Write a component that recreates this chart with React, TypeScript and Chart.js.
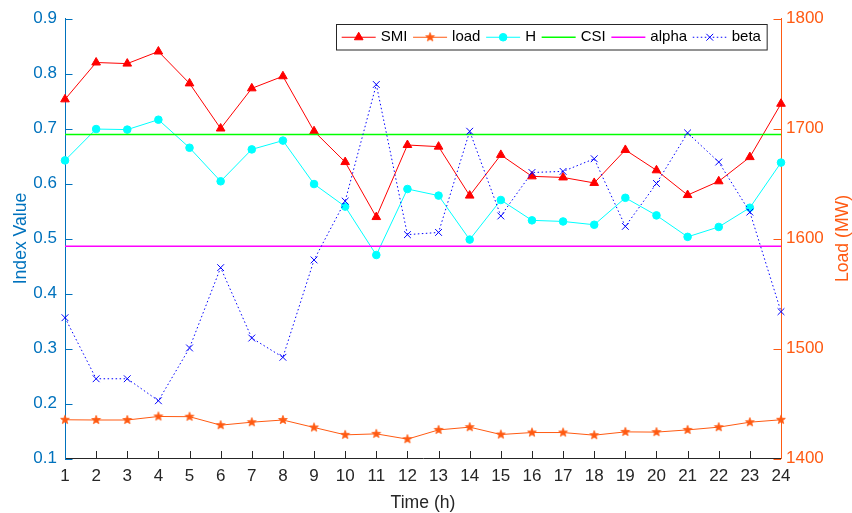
import React, { useEffect, useRef } from 'react';
import { Chart, registerables } from 'chart.js';
import { drawPoint } from 'chart.js/helpers';

Chart.register(...registerables);

// ---------------- data ----------------
const hours = [1, 2, 3, 4, 5, 6, 7, 8, 9, 10, 11, 12, 13, 14, 15, 16, 17, 18, 19, 20, 21, 22, 23, 24];
const smiValues = [0.753, 0.820, 0.818, 0.840, 0.782, 0.700, 0.773, 0.795, 0.695, 0.639, 0.539, 0.670, 0.667, 0.578, 0.652, 0.613, 0.611, 0.601, 0.661, 0.624, 0.579, 0.604, 0.648, 0.745];
const loadValues = [1435.2, 1435.0, 1435.0, 1438.2, 1438.0, 1430.3, 1433.0, 1435.0, 1428.2, 1421.5, 1422.4, 1417.6, 1426.0, 1428.5, 1421.8, 1423.6, 1423.6, 1421.2, 1424.2, 1424.0, 1426.0, 1428.5, 1433.0, 1435.2];
const hValues = [0.642, 0.699, 0.698, 0.716, 0.665, 0.604, 0.662, 0.678, 0.599, 0.558, 0.470, 0.590, 0.578, 0.498, 0.570, 0.533, 0.531, 0.525, 0.574, 0.542, 0.503, 0.521, 0.556, 0.638];
const betaValues = [0.356, 0.245, 0.245, 0.205, 0.301, 0.447, 0.319, 0.284, 0.461, 0.568, 0.780, 0.507, 0.511, 0.695, 0.541, 0.620, 0.622, 0.645, 0.522, 0.600, 0.692, 0.639, 0.548, 0.367];
const csiValue = 0.689;
const alphaValue = 0.486;

const leftTicks = [0.1, 0.2, 0.3, 0.4, 0.5, 0.6, 0.7, 0.8, 0.9];
const rightTicks = [1400, 1500, 1600, 1700, 1800];
const seriesLabels = ['SMI', 'load', 'H', 'CSI', 'alpha', 'beta'];
const rightTitle = 'Load (MW)';

// ---------------- styles ----------------
const FONT = '"Liberation Sans", Arial, Helvetica, sans-serif';
const AXIS_DARK = '#262626';
const LEFT_COLOR = '#0072BD';
const LOAD_COLOR = '#FF5A12';

function makeStar(color: string, outer: number): HTMLCanvasElement {
  const size = Math.ceil(outer * 2 + 2);
  const c = document.createElement('canvas');
  c.width = size;
  c.height = size;
  const ctx = c.getContext('2d')!;
  const cx = size / 2;
  const cy = size / 2;
  const inner = outer * 0.42;
  ctx.beginPath();
  for (let k = 0; k < 10; k++) {
    const r = k % 2 === 0 ? outer : inner;
    const a = -Math.PI / 2 + (k * Math.PI) / 5;
    ctx.lineTo(cx + r * Math.cos(a), cy + r * Math.sin(a));
  }
  ctx.closePath();
  ctx.fillStyle = color;
  ctx.fill();
  ctx.strokeStyle = color;
  ctx.lineWidth = 0.8;
  ctx.stroke();
  return c;
}

const pts = (vals: number[]) => hours.map((h, i) => ({ x: h, y: vals[i] }));
const flat = (v: number) => [
  { x: hours[0], y: v },
  { x: hours[hours.length - 1], y: v },
];

const innerTicksPlugin = {
  id: 'innerTicks',
  afterDatasetsDraw(chart: any) {
    const { ctx, chartArea, scales } = chart;
    const L = 7.5;
    ctx.save();
    ctx.lineWidth = 1;
    ctx.strokeStyle = AXIS_DARK;
    hours.forEach((h, i) => {
      if (i === 0 || i === hours.length - 1) return;
      const px = Math.round(scales.x.getPixelForValue(h)) + 0.5;
      ctx.beginPath();
      ctx.moveTo(px, chartArea.bottom);
      ctx.lineTo(px, chartArea.bottom - L);
      ctx.stroke();
    });
    ctx.strokeStyle = LEFT_COLOR;
    leftTicks.forEach((v) => {
      const py = Math.round(scales.y.getPixelForValue(v)) + 0.5;
      ctx.beginPath();
      ctx.moveTo(chartArea.left, py);
      ctx.lineTo(chartArea.left + L, py);
      ctx.stroke();
    });
    ctx.strokeStyle = LOAD_COLOR;
    rightTicks.forEach((v) => {
      const py = Math.round(scales.y1.getPixelForValue(v)) + 0.5;
      ctx.beginPath();
      ctx.moveTo(chartArea.right, py);
      ctx.lineTo(chartArea.right - L, py);
      ctx.stroke();
    });
    // right axis title, reading bottom-to-top like the left one
    const s = scales.y1;
    ctx.save();
    ctx.translate(s.right - 8.8, (s.top + s.bottom) / 2);
    ctx.rotate(-Math.PI / 2);
    ctx.fillStyle = LOAD_COLOR;
    ctx.font = `17.6px ${FONT}`;
    ctx.textAlign = 'center';
    ctx.textBaseline = 'middle';
    ctx.fillText(rightTitle, 0, 0);
    ctx.restore();
    ctx.restore();
  },
};

const legendPlugin = {
  id: 'boxLegend',
  afterDraw(chart: any) {
    const ctx = chart.ctx as CanvasRenderingContext2D;
    const datasets = chart.data.datasets;
    const boxLeft = 336;
    const boxTop = 24;
    const boxH = 25.5;
    const lineLen = 34;
    const pad = 5.7;
    const textGap = 5;
    ctx.save();
    ctx.font = `15px ${FONT}`;
    let w = pad;
    datasets.forEach((ds: any) => {
      w += lineLen + textGap + ctx.measureText(ds.label).width + pad;
    });
    ctx.fillStyle = '#ffffff';
    ctx.fillRect(boxLeft, boxTop, w, boxH);
    ctx.strokeStyle = AXIS_DARK;
    ctx.lineWidth = 1;
    ctx.strokeRect(boxLeft + 0.5, boxTop + 0.5, w, boxH);
    let x = boxLeft + pad;
    const cy = boxTop + boxH / 2 + 0.5;
    datasets.forEach((ds: any) => {
      ctx.save();
      ctx.strokeStyle = ds.borderColor;
      ctx.lineWidth = ds.borderWidth;
      ctx.setLineDash(ds.borderDash || []);
      ctx.beginPath();
      ctx.moveTo(x, cy);
      ctx.lineTo(x + lineLen, cy);
      ctx.stroke();
      ctx.restore();
      if (ds.pointRadius > 0) {
        ctx.save();
        ctx.fillStyle = ds.pointBackgroundColor;
        ctx.strokeStyle = ds.pointBorderColor;
        ctx.lineWidth = ds.pointBorderWidth;
        ctx.setLineDash([]);
        drawPoint(ctx, { pointStyle: ds.pointStyle, rotation: 0, radius: ds.pointRadius, borderWidth: ds.pointBorderWidth } as any, x + lineLen / 2, cy);
        ctx.restore();
      }
      x += lineLen + textGap;
      ctx.fillStyle = '#000000';
      ctx.textBaseline = 'middle';
      ctx.textAlign = 'left';
      ctx.fillText(ds.label, x, cy);
      x += ctx.measureText(ds.label).width + pad;
    });
    ctx.restore();
  },
};

export default function App() {
  const canvasRef = useRef<HTMLCanvasElement | null>(null);

  useEffect(() => {
    if (!canvasRef.current) return;
    const star = makeStar(LOAD_COLOR, 4.6);
    const common = { clip: false as const, tension: 0, fill: false, pointHoverRadius: 0 };
    const chart = new Chart(canvasRef.current, {
      type: 'line',
      data: {
        datasets: [
          {
            ...common,
            label: seriesLabels[0],
            data: pts(smiValues),
            yAxisID: 'y',
            borderColor: '#FF0000',
            borderWidth: 1,
            pointStyle: 'triangle',
            pointRadius: 5,
            pointBackgroundColor: '#FF0000',
            pointBorderColor: '#FF0000',
            pointBorderWidth: 1,
            order: 6,
          },
          {
            ...common,
            label: seriesLabels[1],
            data: pts(loadValues),
            yAxisID: 'y1',
            borderColor: LOAD_COLOR,
            borderWidth: 1,
            pointStyle: star as any,
            pointRadius: 4.6,
            pointBackgroundColor: LOAD_COLOR,
            pointBorderColor: LOAD_COLOR,
            pointBorderWidth: 1,
            order: 5,
          },
          {
            ...common,
            label: seriesLabels[2],
            data: pts(hValues),
            yAxisID: 'y',
            borderColor: '#00FFFF',
            borderWidth: 1,
            pointStyle: 'circle',
            pointRadius: 3.8,
            pointBackgroundColor: '#00FFFF',
            pointBorderColor: '#00FFFF',
            pointBorderWidth: 1,
            order: 4,
          },
          {
            ...common,
            label: seriesLabels[3],
            data: flat(csiValue),
            yAxisID: 'y',
            borderColor: '#00FF00',
            borderWidth: 1.5,
            pointRadius: 0,
            pointStyle: 'circle',
            pointBackgroundColor: '#00FF00',
            pointBorderColor: '#00FF00',
            pointBorderWidth: 0,
            order: 3,
          },
          {
            ...common,
            label: seriesLabels[4],
            data: flat(alphaValue),
            yAxisID: 'y',
            borderColor: '#FF00FF',
            borderWidth: 1.5,
            pointRadius: 0,
            pointStyle: 'circle',
            pointBackgroundColor: '#FF00FF',
            pointBorderColor: '#FF00FF',
            pointBorderWidth: 0,
            order: 2,
          },
          {
            ...common,
            label: seriesLabels[5],
            data: pts(betaValues),
            yAxisID: 'y',
            borderColor: '#0000FF',
            borderWidth: 1,
            borderDash: [1.5, 2.5],
            pointStyle: 'crossRot',
            pointRadius: 4.8,
            pointBackgroundColor: '#0000FF',
            pointBorderColor: '#0000FF',
            pointBorderWidth: 1,
            order: 1,
          },
        ] as any,
      },
      options: {
        animation: false,
        responsive: true,
        maintainAspectRatio: false,
        events: [],
        layout: { padding: { top: 18.5, left: 0, right: 0, bottom: 0 } },
        plugins: { legend: { display: false }, tooltip: { enabled: false } },
        scales: {
          x: {
            type: 'linear',
            position: 'bottom',
            min: hours[0],
            max: hours[hours.length - 1],
            afterBuildTicks: (s: any) => {
              s.ticks = hours.map((v) => ({ value: v }));
            },
            afterFit: (s: any) => {
              s.height = 54.5;
            },
            grid: { display: false, drawTicks: false },
            border: { display: true, color: AXIS_DARK, width: 1 },
            ticks: {
              autoSkip: false,
              maxRotation: 0,
              padding: 8,
              color: AXIS_DARK,
              font: { family: FONT, size: 17 },
              callback: (v: any) => String(v),
            },
            title: {
              display: true,
              text: 'Time (h)',
              color: AXIS_DARK,
              font: { family: FONT, size: 17.6, lineHeight: 1 },
              padding: { top: 0, bottom: 1 },
            },
          },
          y: {
            type: 'linear',
            position: 'left',
            min: leftTicks[0],
            max: leftTicks[leftTicks.length - 1],
            afterBuildTicks: (s: any) => {
              s.ticks = leftTicks.map((v) => ({ value: v }));
            },
            afterFit: (s: any) => {
              s.width = 65;
            },
            grid: { display: false, drawTicks: false },
            border: { display: true, color: LEFT_COLOR, width: 1 },
            ticks: {
              padding: 8,
              color: LEFT_COLOR,
              font: { family: FONT, size: 17 },
              callback: (v: any) => Number(v).toFixed(1),
            },
            title: {
              display: true,
              text: 'Index Value',
              color: LEFT_COLOR,
              font: { family: FONT, size: 17.6, lineHeight: 1 },
              padding: { top: 12, bottom: 0 },
            },
          },
          y1: {
            type: 'linear',
            position: 'right',
            min: rightTicks[0],
            max: rightTicks[rightTicks.length - 1],
            afterBuildTicks: (s: any) => {
              s.ticks = rightTicks.map((v) => ({ value: v }));
            },
            afterFit: (s: any) => {
              s.width = 71;
            },
            grid: { display: false, drawTicks: false },
            border: { display: true, color: LOAD_COLOR, width: 1 },
            ticks: {
              padding: 5,
              color: LOAD_COLOR,
              font: { family: FONT, size: 17 },
              callback: (v: any) => String(v),
            },
            title: { display: false },
          },
        },
      } as any,
      plugins: [innerTicksPlugin, legendPlugin],
    });
    return () => chart.destroy();
  }, []);

  return (
    <div style={{ position: 'absolute', left: 0, top: 0, width: 852, height: 513, background: '#ffffff' }}>
      <canvas ref={canvasRef} />
    </div>
  );
}
